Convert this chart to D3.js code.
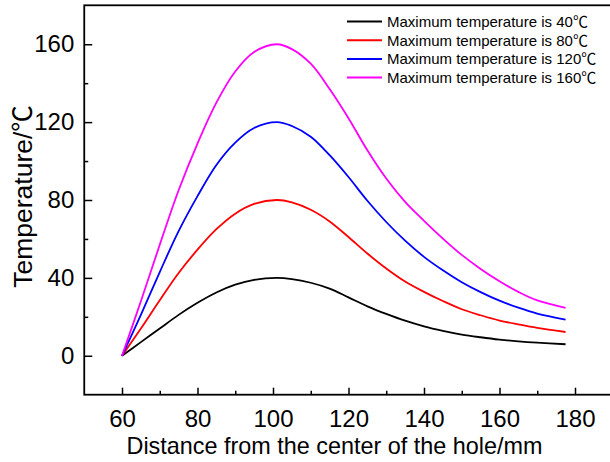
<!DOCTYPE html>
<html>
<head>
<meta charset="utf-8">
<script src="https://cdn.jsdelivr.net/npm/d3@7"></script>
<style>
  html, body { margin: 0; padding: 0; background: #fff; }
  svg { display: block; }
  text { font-family: "Liberation Sans", Arial, "Noto Sans CJK SC", sans-serif; fill: #000; }
</style>
</head>
<body>
<svg id="chart" width="610" height="462"></svg>
<script>
// ---- data ----
const distances = [60, 65, 70, 75, 80, 85, 90, 95, 101, 105, 110, 115, 120, 125, 130, 135, 140, 145, 150, 155, 160, 165, 170, 177.5];
const temp40  = [0, 7, 14, 21, 27.2, 32.5, 36.5, 39, 40, 39.4, 37.5, 34.5, 30, 25.4, 21.5, 18, 15.1, 12.8, 10.9, 9.5, 8.3, 7.4, 6.7, 5.9];
const temp80  = [0, 14, 28.5, 42.5, 54.5, 65, 73, 78, 80, 78.8, 75, 69, 61, 52.5, 44.8, 38.1, 32.8, 28.1, 23.9, 20.8, 18.1, 16.1, 14.3, 12.2];
const temp120 = [0, 21, 43, 64, 82, 98, 109.5, 117, 120, 118, 112.5, 103, 91.8, 79.6, 68.7, 59.1, 50.8, 43.9, 37.8, 32.7, 28.3, 24.7, 21.7, 18.6];
const temp160 = [0, 28, 57, 85, 109, 130, 146, 156, 160, 157.5, 150, 137, 122, 105.5, 91, 79, 69.3, 60.2, 51.8, 44.6, 38.3, 32.8, 28.4, 24.6];
const seriesNames = ["Maximum temperature is 40℃", "Maximum temperature is 80℃", "Maximum temperature is 120℃", "Maximum temperature is 160℃"];
const seriesColors = ["#000000", "#ff0000", "#0000ff", "#ff00ff"];
const xTicks = [60, 80, 100, 120, 140, 160, 180];
const xMinorTicks = [70, 90, 110, 130, 150, 170];
const yTicks = [0, 40, 80, 120, 160];
const yMinorTicks = [20, 60, 100, 140];
const xTitle = "Distance from the center of the hole/mm";
const yTitle = "Temperature/℃";

const seriesValues = [temp40, temp80, temp120, temp160];

// ---- layout ----
const pLeft = 84.25, pRight = 612.75, pTop = 5.3, pBottom = 394.7;
const svg = d3.select("#chart");

const x = d3.scaleLinear().domain([50, 190]).range([pLeft, pRight]);
const y = d3.scaleLinear().domain([-20, 180]).range([pBottom, pTop]);

// curves
const line = d3.line()
  .x(d => x(d[0]))
  .y(d => y(d[1]))
  .curve(d3.curveCatmullRom.alpha(0.5));

seriesValues.forEach((vals, i) => {
  const pts = distances.map((d, j) => [d, vals[j]]);
  svg.append("path")
    .attr("d", line(pts))
    .attr("fill", "none")
    .attr("stroke", seriesColors[i])
    .attr("stroke-width", 1.8)
    .attr("stroke-linejoin", "round");
});

// x axis
const xAxis = d3.axisBottom(x).tickValues(xTicks).tickSizeInner(-7).tickSizeOuter(0).tickPadding(15.5);
const gx = svg.append("g").attr("transform", `translate(0,${pBottom})`).call(xAxis);
gx.select(".domain").remove();
gx.selectAll("line").attr("stroke", "#000").attr("stroke-width", 1.5);
gx.selectAll("text").attr("font-size", 24).attr("font-family", "Liberation Sans, Arial, sans-serif");

const xAxisMinor = d3.axisBottom(x).tickValues(xMinorTicks).tickSizeInner(-4).tickSizeOuter(0).tickFormat("");
const gxm = svg.append("g").attr("transform", `translate(0,${pBottom})`).call(xAxisMinor);
gxm.select(".domain").remove();
gxm.selectAll("line").attr("stroke", "#000").attr("stroke-width", 1.5);

// y axis
const yAxis = d3.axisLeft(y).tickValues(yTicks).tickSizeInner(-8).tickSizeOuter(0).tickPadding(10);
const gy = svg.append("g").attr("transform", `translate(${pLeft},0)`).call(yAxis);
gy.select(".domain").remove();
gy.selectAll("line").attr("stroke", "#000").attr("stroke-width", 1.5);
gy.selectAll("text").attr("font-size", 24).attr("font-family", "Liberation Sans, Arial, sans-serif");

const yAxisMinor = d3.axisLeft(y).tickValues(yMinorTicks).tickSizeInner(-4).tickSizeOuter(0).tickFormat("");
const gym = svg.append("g").attr("transform", `translate(${pLeft},0)`).call(yAxisMinor);
gym.select(".domain").remove();
gym.selectAll("line").attr("stroke", "#000").attr("stroke-width", 1.5);

// frame
svg.append("rect")
  .attr("x", pLeft).attr("y", pTop)
  .attr("width", pRight - pLeft).attr("height", pBottom - pTop)
  .attr("fill", "none").attr("stroke", "#000").attr("stroke-width", 1.8);

// titles
svg.append("text")
  .attr("x", 334.5).attr("y", 454)
  .attr("text-anchor", "middle")
  .attr("font-size", 23.4)
  .text(xTitle);

svg.append("text")
  .attr("transform", `translate(32,196.5) rotate(-90)`)
  .attr("text-anchor", "middle")
  .attr("font-size", 26.5)
  .text(yTitle);

// legend
const legend = svg.append("g");
seriesNames.forEach((name, i) => {
  const cy = 21.5 + i * 18.7;
  legend.append("line")
    .attr("x1", 347).attr("x2", 382)
    .attr("y1", cy).attr("y2", cy)
    .attr("stroke", seriesColors[i]).attr("stroke-width", 2);
  legend.append("text")
    .attr("x", 387).attr("y", cy + 5.5)
    .attr("font-size", 15)
    .text(name);
});
</script>
</body>
</html>
